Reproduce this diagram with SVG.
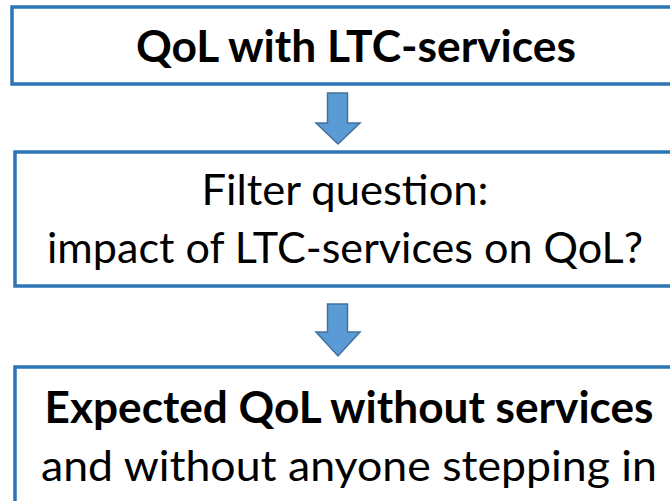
<svg xmlns="http://www.w3.org/2000/svg" width="670" height="501" viewBox="0 0 670 501">
<style>
.box{fill:#ffffff;stroke:#2e75b6;stroke-width:3.5}
.arr{fill:#5b9bd5;stroke:#41719c;stroke-width:1.5;stroke-linejoin:miter}
.t{font-family:Lato,"Open Sans","Liberation Sans",sans-serif;font-size:43px;fill:#000000;text-anchor:middle}
.b{font-weight:bold}
</style>
<rect width="670" height="501" fill="#ffffff"/>
<g id="node-qol-with">
<rect class="box" x="12" y="7" width="700" height="77"/>
<text class="t b" x="356" y="62" textLength="440" lengthAdjust="spacingAndGlyphs">QoL with LTC-services</text>
</g>
<g id="node-filter">
<rect class="box" x="15" y="152" width="700" height="134"/>
<text class="t" x="345" y="205" textLength="287" lengthAdjust="spacingAndGlyphs">Filter question:</text>
<text class="t" x="345" y="263" textLength="596" lengthAdjust="spacingAndGlyphs">impact of LTC-services on QoL?</text>
</g>
<g id="node-expected">
<rect class="box" x="15" y="367" width="700" height="160"/>
<text class="t b" x="349" y="423" textLength="609" lengthAdjust="spacingAndGlyphs">Expected QoL without services</text>
<text class="t" x="349" y="481" textLength="616" lengthAdjust="spacingAndGlyphs">and without anyone stepping in</text>
</g>
<g id="connectors">
<path class="arr" d="M327.5,93 H347.5 V123 H360 L338,144 L316,123 H327.5 Z"/>
<path class="arr" d="M327.5,304 H347.5 V332 H360 L338,356 L316,332 H327.5 Z"/>
</g>
</svg>
